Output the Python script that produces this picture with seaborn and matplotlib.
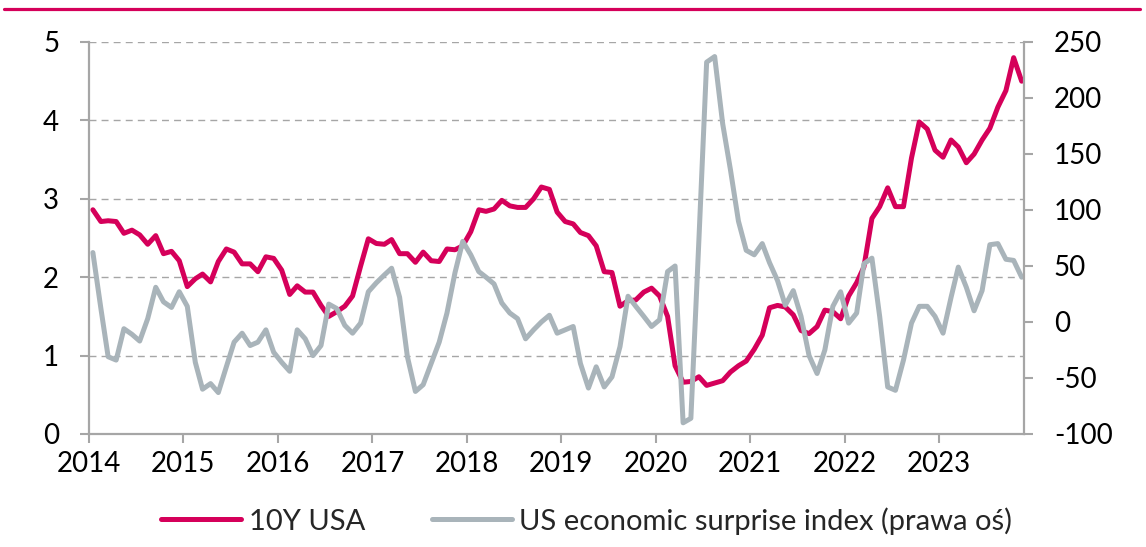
import pandas as pd
import matplotlib
matplotlib.use("Agg")
import matplotlib.pyplot as plt
from matplotlib.lines import Line2D
import seaborn as sns

# monthly data, Jan 2014 - Nov 2023
months = pd.date_range("2014-01-01", "2023-11-01", freq="MS")
years = [str(y) for y in range(2014, 2024)]

us10y = [
    2.86, 2.71, 2.72, 2.71, 2.56, 2.60, 2.54, 2.42, 2.53, 2.30, 2.33, 2.21,
    1.88, 1.98, 2.04, 1.94, 2.20, 2.36, 2.32, 2.17, 2.17, 2.07, 2.26, 2.24,
    2.09, 1.78, 1.89, 1.81, 1.81, 1.64, 1.50, 1.56, 1.63, 1.76, 2.14, 2.49,
    2.43, 2.42, 2.48, 2.30, 2.30, 2.19, 2.32, 2.21, 2.20, 2.36, 2.35, 2.40,
    2.58, 2.86, 2.84, 2.87, 2.98, 2.91, 2.89, 2.89, 3.00, 3.15, 3.12, 2.83,
    2.71, 2.68, 2.57, 2.53, 2.40, 2.07, 2.06, 1.63, 1.70, 1.71, 1.81, 1.86,
    1.76, 1.50, 0.87, 0.66, 0.67, 0.73, 0.62, 0.65, 0.68, 0.79, 0.87, 0.93,
    1.08, 1.26, 1.61, 1.64, 1.62, 1.52, 1.32, 1.28, 1.37, 1.58, 1.56, 1.47,
    1.76, 1.93, 2.13, 2.75, 2.90, 3.14, 2.90, 2.90, 3.52, 3.98, 3.89, 3.62,
    3.53, 3.75, 3.66, 3.46, 3.57, 3.75, 3.90, 4.17, 4.38, 4.80, 4.50,
]

surprise = [
    62, 12, -31, -34, -6, -11, -17, 3, 31, 18, 13, 27,
    14, -36, -60, -55, -63, -40, -18, -10, -21, -18, -7, -27,
    -36, -44, -7, -15, -30, -21, 16, 12, -3, -10, -1, 27,
    35, 42, 48, 22, -31, -62, -56, -37, -18, 8, 44, 72,
    60, 45, 40, 34, 17, 8, 3, -15, -7, 0, 6, -10,
    -7, -4, -37, -59, -40, -58, -49, -22, 23, 14, 5, -4,
    2, 45, 50, -90, -86, 73, 232, 237, 177, 136, 90, 64,
    60, 70, 53, 37, 15, 28, 5, -30, -46, -25, 14, 27,
    -1, 8, 52, 57, 5, -58, -61, -34, -1, 14, 14, 5,
    -10, 22, 49, 31, 10, 28, 69, 70, 56, 55, 40,
]

left_ticks = [0, 1, 2, 3, 4, 5]
right_ticks = [-100, -50, 0, 50, 100, 150, 200, 250]

RED = "#D5005A"
GREY = "#A9B4BA"
AXIS = "#A6A6A6"

sns.set_style("white")
plt.rcParams["font.family"] = ["Lato", "DejaVu Sans"]
plt.rcParams["font.size"] = 20
plt.rcParams["axes.unicode_minus"] = False

df = pd.DataFrame({
    "date": months + pd.Timedelta(days=15),
    "us10y": us10y,
    "surprise": surprise,
})

fig = plt.figure(figsize=(11.46, 5.47), dpi=100)
ax = fig.add_axes([89 / 1146, 1 - 434 / 547, (1024 - 89) / 1146, (434 - 42) / 547])
ax2 = ax.twinx()

sns.lineplot(data=df, x="date", y="us10y", ax=ax, color=RED, linewidth=3.6,
             label="10Y USA", legend=False)
sns.lineplot(data=df, x="date", y="surprise", ax=ax2, color=GREY, linewidth=3.6,
             label="US economic surprise index (prawa oś)", legend=False)

ax.set_xlim(pd.Timestamp("2014-01-01"), pd.Timestamp("2023-11-25"))
ax.set_ylim(0, 5)
ax2.set_ylim(-100, 250)
ax.set_yticks(left_ticks)
ax2.set_yticks(right_ticks)
ax.set_xticks([pd.Timestamp(f"{y}-01-01") for y in years])
ax.set_xticklabels(years)
ax.set_xlabel("")
ax.set_ylabel("")
ax2.set_ylabel("")

ax.yaxis.grid(True, linestyle=(0, (5, 3.7)), color=AXIS, linewidth=1.0)
ax.xaxis.grid(False)
ax.set_axisbelow(True)

for a in (ax, ax2):
    for s in a.spines.values():
        s.set_visible(False)
ax.spines["left"].set_visible(True)
ax.spines["bottom"].set_visible(True)
ax2.spines["right"].set_visible(True)
for s in (ax.spines["left"], ax.spines["bottom"], ax2.spines["right"]):
    s.set_color(AXIS)
    s.set_linewidth(1.6)

ax.tick_params(axis="y", direction="out", length=6.5, width=1.5, color=AXIS,
               pad=15, labelsize=20, labelcolor="black", left=True)
ax.tick_params(axis="x", direction="out", length=6.5, width=1.5, color=AXIS,
               pad=6, labelsize=20, labelcolor="black", bottom=True)
ax2.tick_params(axis="y", direction="out", length=6.5, width=1.5, color=AXIS,
                pad=15, labelsize=20, labelcolor="black", right=True)

# top rule
fig.add_artist(Line2D([0.0035, 0.995], [1 - 9 / 547, 1 - 9 / 547],
                      color=RED, linewidth=2.3, transform=fig.transFigure))

handles = [ax.get_lines()[0], ax2.get_lines()[0]]
labels = ["10Y USA", "US economic surprise index (prawa oś)"]
fig.legend(handles, labels, loc="center", bbox_to_anchor=(0.512, 0.048),
           ncol=2, frameon=False, fontsize=21, handlelength=2.75,
           handletextpad=0.25, columnspacing=2.3)

fig.savefig("out.png", dpi=100)
